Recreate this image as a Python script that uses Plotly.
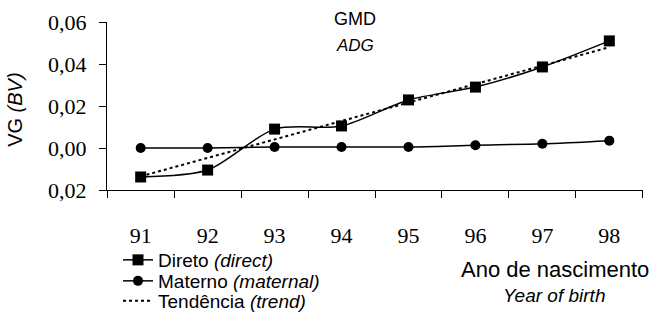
import plotly.graph_objects as go

years = ["91", "92", "93", "94", "95", "96", "97", "98"]
direto = [-0.0138, -0.0105, 0.0090, 0.0105, 0.0229, 0.0290, 0.0386, 0.0510]
materno = [0.0000, 0.0000, 0.0005, 0.0005, 0.0005, 0.0013, 0.0020, 0.0035]
tendencia = [-0.0135, -0.0047, 0.0041, 0.0129, 0.0217, 0.0305, 0.0393, 0.0480]

y_ticks = [-0.02, 0.0, 0.02, 0.04, 0.06]
y_tick_labels = ["0,02", "0,00", "0,02", "0,04", "0,06"]

fig = go.Figure()
fig.add_trace(go.Scatter(
    x=years, y=direto, mode="lines+markers", name="Direto <i>(direct)</i>",
    line=dict(color="black", width=1.5, shape="spline", smoothing=0.8),
    marker=dict(symbol="square", size=11, color="black"), legend="legend"))
fig.add_trace(go.Scatter(
    x=years, y=materno, mode="lines+markers", name="Materno <i>(maternal)</i>",
    line=dict(color="black", width=1.5, shape="spline", smoothing=0.8),
    marker=dict(symbol="circle", size=10, color="black"), legend="legend2"))
fig.add_trace(go.Scatter(
    x=years, y=tendencia, mode="lines", name="Tendência <i>(trend)</i>",
    line=dict(color="black", width=2, dash="dot"), legend="legend3"))

legend_font = dict(family="Liberation Sans, Arial", size=19, color="black")


def legend_at(row_center_y):
    return dict(x=118 / 650, y=1 - (row_center_y - 17) / 314,
                xref="container", yref="container",
                xanchor="left", yanchor="top", font=legend_font,
                itemwidth=30, bgcolor="rgba(0,0,0,0)")


fig.update_layout(
    width=650, height=314,
    margin=dict(l=107, r=7, t=22, b=124, autoexpand=False),
    paper_bgcolor="white", plot_bgcolor="white",
    showlegend=True,
    legend=legend_at(258),
    legend2=legend_at(279),
    legend3=legend_at(299),
    font=dict(family="Liberation Serif, Times New Roman", color="black"),
)
fig.update_xaxes(
    type="category", tickson="boundaries", ticks="outside", ticklen=7,
    tickcolor="black", showline=True, linecolor="black", linewidth=1,
    showgrid=False, tickfont=dict(family="Liberation Serif", size=22),
    ticklabelstandoff=26, automargin=False)
fig.update_yaxes(
    range=[-0.02, 0.06], tickvals=y_ticks, ticktext=y_tick_labels,
    ticks="outside", ticklen=7, tickcolor="black", showline=True,
    linecolor="black", linewidth=1, showgrid=False, zeroline=False,
    tickfont=dict(family="Liberation Serif", size=22),
    ticklabelstandoff=8, automargin=False)

sans = "Liberation Sans, Arial"
annotations = [
    dict(text="GMD", x=0.462, y=1.02, size=18),
    dict(text="<i>ADG</i>", x=0.462, y=0.863, size=17),
    dict(text="VG <i>(BV)</i>", x=-0.172, y=0.476, size=20, angle=-90),
    dict(text="Ano de nascimento", x=0.836, y=-0.476, size=22),
    dict(text="<i>Year of birth</i>", x=0.834, y=-0.625, size=19),
]
fig.update_layout(annotations=[
    dict(text=a["text"], x=a["x"], y=a["y"], xref="paper", yref="paper",
         showarrow=False, textangle=a.get("angle", 0),
         font=dict(family=sans, size=a["size"], color="black"),
         xanchor="center", yanchor="middle")
    for a in annotations
])

fig.write_html("out.html", config={"displayModeBar": False},
               post_script="document.body.style.margin='0';")
